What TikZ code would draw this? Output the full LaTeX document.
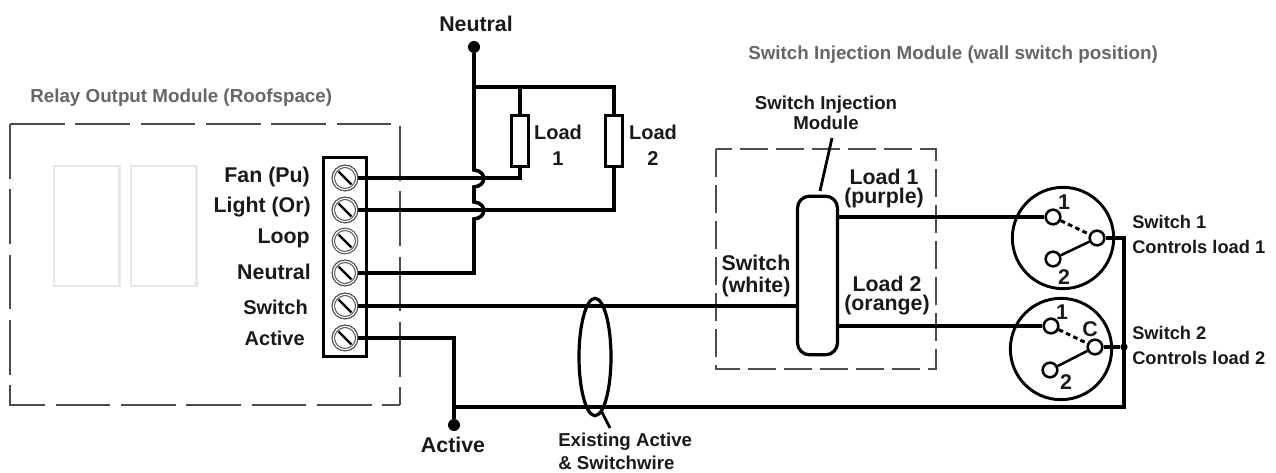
\documentclass[tikz,border=0pt]{standalone}
\usepackage{fontspec}
\setmainfont{Liberation Sans}
\usetikzlibrary{calc,shapes.geometric}

\begin{document}
\begin{tikzpicture}[x=0.75pt,y=-0.75pt,>=stealth,
	]

	\tikzset{wire/.style={line width=2.7pt,line join=miter}}
	\tikzset{thin wire/.style={line width=2.1pt}}
	\tikzset{throw line/.style={line width=2.2pt,dash pattern=on 3.5pt off 2.5pt}}
	\tikzset{module edge/.style={draw=black!70,line width=0.9pt,dash pattern=on 41pt off 8pt}}
	\tikzset{label text/.style={font=\bfseries\fontsize{13.7}{15}\selectfont,text=black!90,inner sep=0pt,align=center}}
	\tikzset{big text/.style={font=\bfseries\fontsize{16}{14.25}\selectfont,text=black!90,inner sep=0pt,align=center}}
	\tikzset{grey text/.style={font=\bfseries\fontsize{14.1}{15}\selectfont,text=black!60,inner sep=0pt}}
	\tikzset{dot/.style={circle,fill=black,inner sep=0pt,minimum size=9pt}}
	\tikzset{contact/.style={circle,draw=black,fill=white,line width=1.9pt,inner sep=0pt,minimum size=11pt}}
	\tikzset{screw/.style={circle,draw=black!70,double=white,double distance=0.9pt,line width=0.8pt,fill=white,inner sep=0pt,minimum size=17.5pt,path picture={
				\draw[black,line width=1.7pt] ($(path picture bounding box.center)+(-4.8pt,4.8pt)$) -- ($(path picture bounding box.center)+(4.8pt,-4.8pt)$);
			}}}

	\useasboundingbox (0,0) rectangle (1276,473);

	% module outlines
	\draw[module edge] (10,124) -- (400,124) -- (400,405);
	\draw[module edge] (10,124) -- (10,405) -- (400,405);
	\foreach \x in {54,131} {
			\draw[black!9,line width=2.2pt] (\x,166) rectangle ++(65.5,120);
		}
	\draw[module edge,line width=0.8pt,dash pattern=on 21pt off 6pt] (716,149) rectangle (936,369);
	\node[grey text,anchor=west] (simtitle) at (748,55) {Switch Injection Module (wall switch position)};
	\node[grey text,anchor=west] (roomtitle) at (30,98) {Relay Output Module (Roofspace)};

	% terminal strip
	\node[draw=black,fill=white,line width=2.4pt,inner sep=0pt,rectangle,minimum width=32pt,minimum height=149pt] (strip) at (345,257) {};
	\foreach \i/\y in {1/178,2/210,3/241,4/273,5/306,6/338} {
			\node[screw] (s\i) at (345,\y) {};
		}
	\node[big text,anchor=east] (t1) at (310,177) {Fan (Pu)};
	\node[big text,anchor=east] (t2) at (311,207) {Light (Or)};
	\node[big text,anchor=east] (t3) at (310,238) {Loop};
	\node[big text,anchor=east] (t4) at (311,272) {Neutral};
	\node[big text,anchor=east,font=\bfseries\fontsize{15}{15}\selectfont] (t5) at (308,307) {Switch};
	\node[big text,anchor=east,font=\bfseries\fontsize{15}{15}\selectfont] (t6) at (305,338) {Active};

	% neutral side
	\node[dot] (neutraldot) at (474,47) {};
	\node[big text] (neutrallabel) at (476,24) {Neutral};
	\coordinate (njoin) at (474,87);
	\coordinate (ncorner) at (614,87);
	\coordinate (l1top) at (520,87);
	\node[draw=black,fill=white,line width=2.2pt,inner sep=0pt,minimum width=13pt,minimum height=38pt] (load1) at (520,141) {};
	\node[draw=black,fill=white,line width=2.2pt,inner sep=0pt,minimum width=13pt,minimum height=38pt] (load2) at (614,141) {};
	\node[big text,font=\bfseries\fontsize{15}{19.5}\selectfont] (load1text) at (558,145) {Load\\1};
	\node[big text,font=\bfseries\fontsize{15}{19.5}\selectfont] (load2text) at (653,145) {Load\\2};
	\draw[wire] (neutraldot) -- (njoin) -- (ncorner) -- (load2);
	\draw[wire] (l1top) -- (load1);
	\coordinate (hop1a) at (474,170);
	\coordinate (hop1b) at (474,187);
	\coordinate (hop2a) at (474,202);
	\coordinate (hop2b) at (474,219);
	\coordinate (nbottom) at (474,273);
	\coordinate (l1wire) at (520,178);
	\coordinate (l2wire) at (614,210);
	\draw[wire] (s1) -- (l1wire) -- (load1);
	\draw[wire] (s2) -- (l2wire) -- (load2);
	\draw[wire] (njoin) -- (hop1a) .. controls (487,171) and (487,186) .. (hop1b) -- (hop2a) .. controls (487,203) and (487,218) .. (hop2b) -- (nbottom) -- (s4);
	\foreach \i in {1,2,4} {
			\node[screw] at (s\i) {};
		}

	% switch side
	\node[draw=black,fill=white,line width=2.4pt,rounded corners=9pt,inner sep=0pt,minimum width=30pt,minimum height=119pt] (sim) at (817.5,275.5) {};
	\draw[wire] (s5) -- (sim.west |- s5);
	\node[label text,font=\bfseries\fontsize{14}{15}\selectfont] (simlabel) at (826,113) {Switch Injection\\Module};
	\coordinate (simtip) at (832,138);
	\coordinate (simfoot) at (820,191);
	\draw[thin wire] (simtip) -- (simfoot);
	\node[big text] (swlabel) at (756,276) {Switch\\[2pt](white)};
	\node[big text] (l1label) at (884,188) {Load 1\\(purple)};
	\node[big text] (l2label) at (887,296) {Load 2\\(orange)};

	% switches
	\node[circle,draw=black,line width=2.2pt,inner sep=0pt,minimum size=76pt] (sw1) at (1063,238) {};
	\node[circle,draw=black,line width=2.2pt,inner sep=0pt,minimum size=76pt] (sw2) at (1061,349) {};
	\node[contact] (a1) at (1053,217) {};
	\node[contact] (b1) at (1053,259) {};
	\node[contact] (c1) at (1097,238) {};
	\node[contact] (a2) at (1051,326) {};
	\node[contact] (b2) at (1050,370) {};
	\node[contact] (c2) at (1095,347) {};
	\draw[wire] (sim.east |- a1) -- (a1);
	\draw[wire] (sim.east |- a2) -- (a2);
	\draw[line width=1.9pt] (b1) -- (c1);
	\draw[line width=1.9pt] (b2) -- (c2);
	\draw[throw line] (a1) -- (c1);
	\draw[throw line] (a2) -- (c2);
	\node[big text] (one1) at (1064,202) {1};
	\node[big text] (two1) at (1064,277) {2};
	\node[big text] (one2) at (1062,312) {1};
	\node[big text] (two2) at (1066,382) {2};
	\node[big text] (cee2) at (1090,329) {C};
	\node[label text,font=\bfseries\fontsize{13.7}{18.75}\selectfont,anchor=west,align=left] (sw1label) at (1132,234.5) {Switch 1\\Controls load 1};
	\node[label text,font=\bfseries\fontsize{13.7}{18.75}\selectfont,anchor=west,align=left] (sw2label) at (1132,345.5) {Switch 2\\Controls load 2};

	% active
	\node[dot] (activedot) at (454,425) {};
	\node[big text] (activelabel) at (453,445) {Active};
	\coordinate (acorner) at (454,338);
	\coordinate (ajoin) at (454,407);
	\coordinate (bcorner) at (1124,407);
	\coordinate (ccorner) at (1124,238);
	\node[circle,fill=black,inner sep=0pt,minimum size=5.5pt] (swjoin) at (1124,347) {};
	\draw[wire] (s6) -- (acorner) -- (activedot);
	\draw[wire] (ajoin) -- (bcorner) -- (ccorner) -- (c1);
	\draw[wire] (c2) -- (swjoin);
	\foreach \i in {5,6} {
			\node[screw] at (s\i) {};
		}

	% cable bundle
	\node[ellipse,draw=black,line width=2.4pt,inner sep=0pt,minimum width=24pt,minimum height=88pt] (cable) at (595,357) {};
	\coordinate (cablefoot) at (610,428);
	\draw[thin wire] (cable.south) ++(7,-5) -- (cablefoot);
	\node[label text,font=\bfseries\fontsize{14}{17}\selectfont,anchor=west,align=left] (cablelabel) at (558,451) {Existing Active\\\& Switchwire};
\end{tikzpicture}
\end{document}
